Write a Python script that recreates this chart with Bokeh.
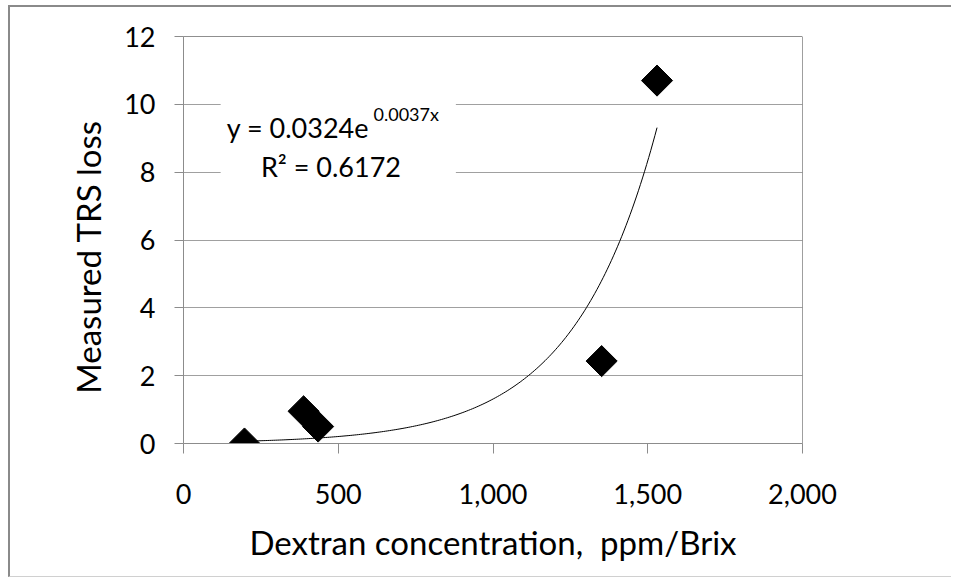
import numpy as np
from bokeh.plotting import figure
from bokeh.models import Range1d, FixedTicker, NumeralTickFormatter, Span, Label, BoxAnnotation
from bokeh.embed import file_html
from bokeh.resources import INLINE

# ---- data ----
dextran = [197, 388, 435, 1351, 1530]          # ppm/Brix
trs_loss = [0.0, 0.95, 0.5, 2.43, 10.7]        # measured TRS loss
x_ticks = [0, 500, 1000, 1500, 2000]
y_ticks = [0, 2, 4, 6, 8, 10, 12]
fit_a = 0.0324
fit_b = 0.0037
eq_text = "y = 0.0324e"
eq_sup = "0.0037x"
r2_text = "R\u00b2 = 0.6172"
x_title = "Dextran concentration,\u00a0 ppm/Brix"
y_title = "Measured TRS loss"

FONT = "Lato"
TXT = "#000000"

p = figure(width=943, height=572, output_backend="svg", toolbar_location=None,
           x_range=Range1d(0, 2000), y_range=Range1d(0, 12),
           min_border_left=173, min_border_right=151, min_border_top=29, min_border_bottom=136)
p.styles = {"margin-left": "8px", "margin-top": "5px",
            "border-left": "2px solid #8a8a8a", "border-top": "2px solid #8a8a8a",
            "border-bottom": "1px solid #d0d0d0"}
p.outline_line_color = None
p.background_fill_color = "white"
p.border_fill_color = "white"

# axes
for ax in (p.xaxis[0], p.yaxis[0]):
    ax.axis_line_color = "#8c8c8c"
    ax.major_tick_line_color = "#8c8c8c"
    ax.minor_tick_line_color = None
    ax.major_tick_in = 0
    ax.major_label_text_font = FONT
    ax.major_label_text_font_size = "27px"
    ax.major_label_text_color = TXT
    ax.axis_label_text_font = FONT
    ax.axis_label_text_font_size = "33px"
    ax.axis_label_text_font_style = "normal"
    ax.axis_label_text_color = TXT

p.xaxis.ticker = FixedTicker(ticks=x_ticks)
p.xaxis.formatter = NumeralTickFormatter(format="0,0")
p.xaxis.major_tick_out = 10
p.xaxis.major_label_standoff = 30
p.xaxis.axis_label = x_title
p.xaxis.axis_label_standoff = 15

p.yaxis.ticker = FixedTicker(ticks=y_ticks)
p.yaxis.major_tick_out = 9
p.yaxis.major_label_standoff = 19
p.yaxis.axis_label = y_title + "\u00a0\u00a0\u00a0\u00a0"
p.yaxis.axis_label_standoff = 13

p.xgrid.grid_line_color = None
p.ygrid.grid_line_color = "#a0a0a0"
p.ygrid.grid_line_width = 1

# top and right frame lines
p.add_layout(Span(location=12, dimension="width", line_color="#202020", line_width=1))
p.add_layout(Span(location=2000, dimension="height", line_color="#404040", line_width=1))

# trendline from fitted equation
xs = np.linspace(min(dextran), max(dextran), 200)
ys = fit_a * np.exp(fit_b * xs)
p.line(xs, ys, line_color="black", line_width=1)

# data points (diamonds)
p.scatter(dextran, trs_loss, marker="square", angle=np.pi / 4, size=22,
          fill_color="black", line_color="black")

# equation box
p.add_layout(BoxAnnotation(left=120, right=880, bottom=7.75, top=10.3,
                           fill_color="white", fill_alpha=1.0, line_color=None))
p.add_layout(Label(x=140, y=9.31, text=eq_text, text_font=FONT, text_font_size="27px",
                   text_color=TXT, text_baseline="alphabetic"))
p.add_layout(Label(x=614, y=9.72, text=eq_sup, text_font=FONT, text_font_size="18px",
                   text_color=TXT, text_baseline="alphabetic"))
p.add_layout(Label(x=250, y=8.16, text=r2_text, text_font=FONT, text_font_size="27px",
                   text_color=TXT, text_baseline="alphabetic"))

open("out.html", "w").write(file_html(p, INLINE))
